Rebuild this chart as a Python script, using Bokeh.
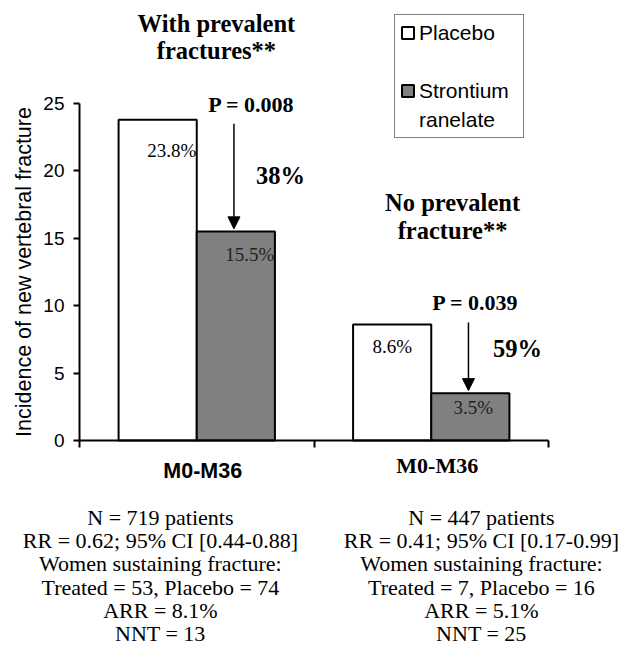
from bokeh.plotting import figure
from bokeh.models import (Range1d, FixedTicker, Label, Arrow, NormalHead, Legend, LegendItem)
from bokeh.core.properties import value
from bokeh.embed import file_html
from bokeh.resources import INLINE

# ---------------- data ----------------
group_titles = [["With prevalent", "fractures**"], ["No prevalent", "fracture**"]]
category_labels = ["M0-M36", "M0-M36"]
series_names = ["Placebo", "Strontium", "ranelate"]
placebo = [23.8, 8.6]
strontium = [15.5, 3.5]
placebo_text = ["23.8%", "8.6%"]
strontium_text = ["15.5%", "3.5%"]
p_values = ["P = 0.008", "P = 0.039"]
reductions = ["38%", "59%"]
y_ticks = [0, 5, 10, 15, 20, 25]
summary = [
    ["N = 719 patients", "RR = 0.62; 95% CI [0.44-0.88]", "Women sustaining fracture:",
     "Treated = 53, Placebo = 74", "ARR = 8.1%", "NNT = 13"],
    ["N = 447 patients", "RR = 0.41; 95% CI [0.17-0.99]", "Women sustaining fracture:",
     "Treated = 7, Placebo = 16", "ARR = 5.1%", "NNT = 25"],
]

# ---------------- layout ----------------
W, H = 620, 654
AX_X, AX_Y = 79, 440          # pixel position of the axes origin
PPU_X, PPU_Y = 234.5, 13.48   # pixels per data unit
SANS = "Liberation Sans"
SERIF = "Liberation Serif"

x_range = Range1d(-AX_X / PPU_X, (W - AX_X) / PPU_X)
y_range = Range1d(-(H - AX_Y) / PPU_Y, AX_Y / PPU_Y)

p = figure(width=W, height=H, output_backend="svg", toolbar_location=None,
           x_range=x_range, y_range=y_range,
           min_border_left=0, min_border_right=0, min_border_top=0, min_border_bottom=0)
p.outline_line_color = None
p.grid.visible = False
p.background_fill_color = "white"
p.border_fill_color = "white"

centers = [i + 0.5 for i in range(len(placebo))]
bw = 1.0 / 3.0
x_plac = [c - bw / 2 for c in centers]
x_stro = [c + bw / 2 for c in centers]

r1 = p.vbar(x=x_plac, top=placebo, width=bw, fill_color="white", line_color="black", line_width=2)
p.text(x=x_plac, y=placebo, text=placebo_text, x_offset=[14, 0], y_offset=[31, 22],
       text_align="center", text_baseline="middle", text_font=value(SERIF),
       text_font_size="19px", text_color="black")
r2 = p.vbar(x=x_stro, top=strontium, width=bw, fill_color="#808080", line_color="black", line_width=2)
p.text(x=x_stro, y=strontium, text=strontium_text, x_offset=[14, 3], y_offset=[23, 14],
       text_align="center", text_baseline="middle", text_font=value(SERIF),
       text_font_size="19px", text_color="#222222")
# renderer without visible marks, only used to carry the second line of a legend label
r_blank = p.vbar(x=[], top=[], width=bw, fill_alpha=0, line_alpha=0)

# axes (fixed at the data origin, drawn only over their own span)
label_shift = 6 / PPU_X
xa = p.xaxis[0]
xa.fixed_location = 0
xa.bounds = (0, 2)
xa.ticker = FixedTicker(ticks=[centers[0] + label_shift], minor_ticks=[0, 1, 2])
xa.major_label_overrides = {centers[0] + label_shift: category_labels[0]}
xa.major_tick_out = 0
xa.major_tick_in = 0
xa.minor_tick_out = 7
xa.minor_tick_in = 0
xa.minor_tick_line_color = "black"
xa.minor_tick_line_width = 2
xa.axis_line_width = 2
xa.axis_line_color = "black"
xa.major_label_text_font = SANS
xa.major_label_text_font_style = "bold"
xa.major_label_text_font_size = "21.5px"
xa.major_label_text_color = "black"
xa.major_label_standoff = 11

ya = p.yaxis[0]
ya.fixed_location = 0
ya.bounds = (0, 25)
ya.ticker = FixedTicker(ticks=y_ticks, minor_ticks=[])
ya.major_tick_out = 6
ya.major_tick_in = 0
ya.major_tick_line_width = 2
ya.axis_line_width = 2
ya.axis_line_color = "black"
ya.major_label_text_font = SANS
ya.major_label_text_font_size = "19px"
ya.major_label_text_color = "black"
ya.major_label_standoff = 9
ya.axis_label = "Incidence of new vertebral fracture"
ya.axis_label_text_font = SANS
ya.axis_label_text_font_style = "normal"
ya.axis_label_text_font_size = "21.5px"
ya.axis_label_text_color = "black"
ya.axis_label_standoff = 4

# second category label (serif bold, as in the original)
p.add_layout(Label(x=centers[1] + label_shift, y=-1.85, text=category_labels[1], text_font=SERIF,
                   text_font_style="bold", text_font_size="22px", text_align="center",
                   text_baseline="middle", text_color="black"))

# group titles
title_pos = [(0.584, 30.93, 28.93), (1.591, 17.66, 15.58)]
for lines, (tx, y1, y2) in zip(group_titles, title_pos):
    for t, ty in zip(lines, [y1, y2]):
        p.add_layout(Label(x=tx, y=ty, text=t, text_font=SERIF, text_font_style="bold",
                           text_font_size="24.5px", text_align="center", text_baseline="middle",
                           text_color="black"))

# p-values, arrows, reductions
p_pos = [(0.733, 24.93), (1.689, 10.24)]
red_pos = [(0.857, 19.66), (1.868, 6.82)]
arrow_start = [placebo[0] - 0.3, placebo[1] + 0.15]
for i in range(2):
    p.add_layout(Label(x=p_pos[i][0], y=p_pos[i][1], text=p_values[i], text_font=SERIF,
                       text_font_style="bold", text_font_size="22px", text_align="center",
                       text_baseline="middle", text_color="black"))
    p.add_layout(Label(x=red_pos[i][0], y=red_pos[i][1], text=reductions[i], text_font=SERIF,
                       text_font_style="bold", text_font_size="24.5px", text_align="center",
                       text_baseline="middle", text_color="black"))
    p.add_layout(Arrow(end=NormalHead(size=12, fill_color="black", line_color="black"),
                       x_start=x_stro[i] - 0.008, y_start=arrow_start[i],
                       x_end=x_stro[i] - 0.008, y_end=strontium[i] + 0.2,
                       line_width=1.5, line_color="black"))

# summary text blocks
sum_x = [0.345, 1.714]
for col, sx in zip(summary, sum_x):
    for j, t in enumerate(col):
        py = -(77 + j * 23.2) / PPU_Y
        p.add_layout(Label(x=sx, y=py, text=t, text_font=SERIF, text_font_size="22px",
                           text_align="center", text_baseline="middle", text_color="black"))

# legend
legend = Legend(items=[LegendItem(label=series_names[0], renderers=[r1]),
                       LegendItem(label=" ", renderers=[r_blank]),
                       LegendItem(label=series_names[1], renderers=[r2]),
                       LegendItem(label=series_names[2], renderers=[r_blank])],
                location=(394, H - 138))
legend.label_text_font = SANS
legend.label_text_font_size = "21px"
legend.label_text_color = "black"
legend.label_height = 25
legend.label_width = 99
legend.glyph_width = 15
legend.glyph_height = 15
legend.padding = 5
legend.spacing = 4
legend.label_standoff = 4
legend.border_line_color = "black"
legend.border_line_width = 1.5
legend.margin = 0
legend.background_fill_alpha = 1.0
p.add_layout(legend)

open("out.html", "w").write(file_html(p, INLINE))
